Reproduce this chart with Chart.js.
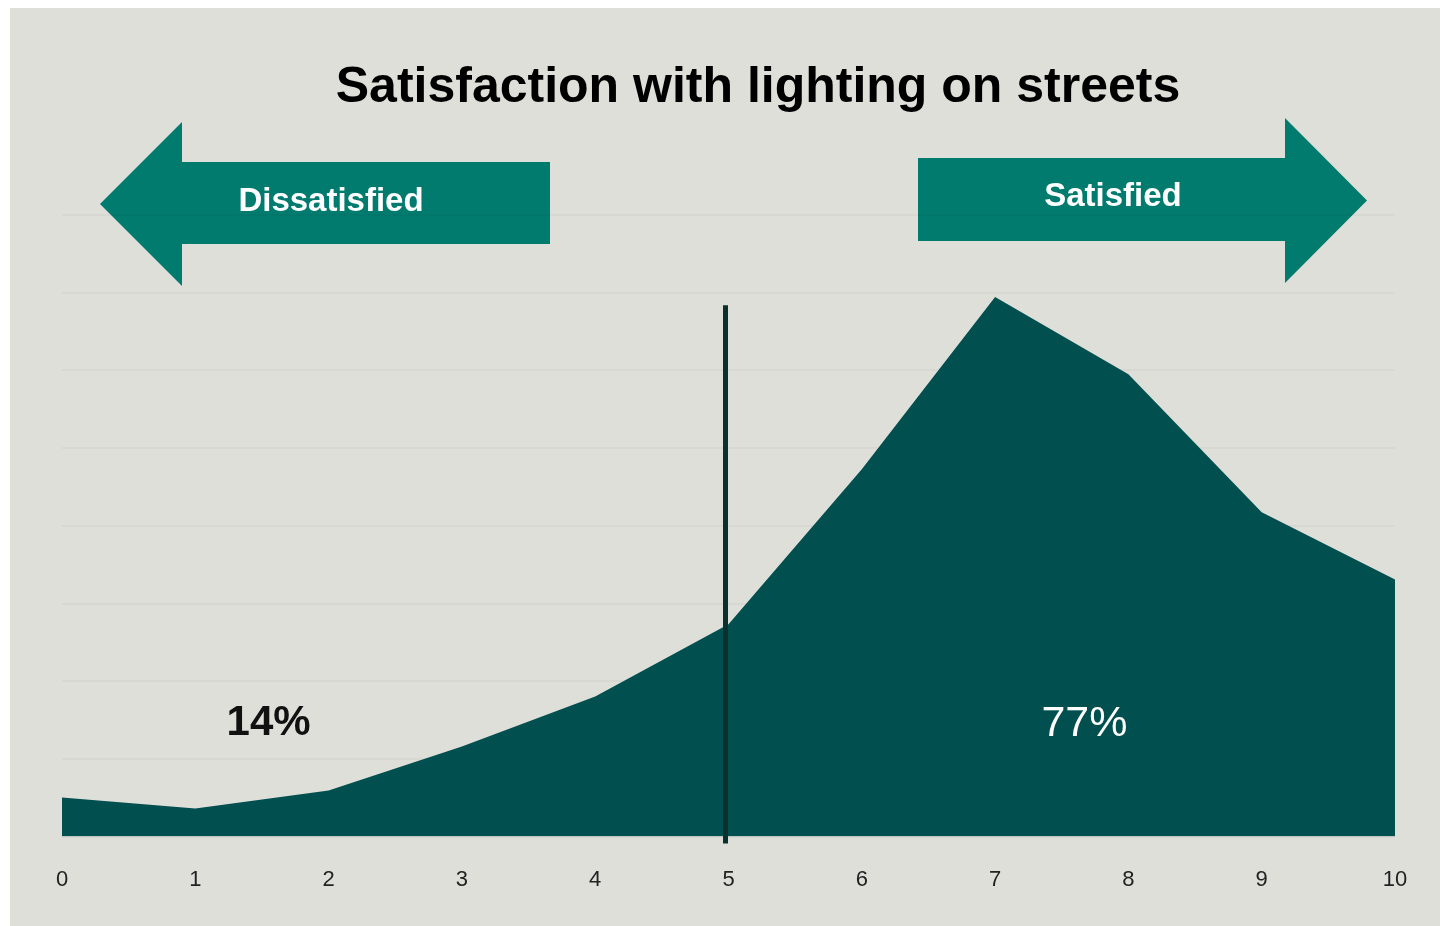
<!DOCTYPE html>
<html>
<head>
<meta charset="utf-8">
<script src="https://cdn.jsdelivr.net/npm/chart.js@4"></script>
<style>
  html, body { margin: 0; padding: 0; background: #ffffff; }
  #panel {
    position: absolute;
    left: 10px;
    top: 8px;
    width: 1430px;
    height: 918px;
    background: #dfdfd9;
  }
  #chartSatisfaction { display: block; }
</style>
</head>
<body>
<div id="panel">
  <canvas id="chartSatisfaction" width="1430" height="918"></canvas>
</div>
<script>
// satisfaction score on a 0-10 scale, share of respondents (%)
const SCORES = ['0', '1', '2', '3', '4', '5', '6', '7', '8', '9', '10'];
const SHARES = [1.56, 1.12, 1.84, 3.59, 5.59, 8.47, 14.66, 21.53, 18.45, 12.94, 10.26];

const TITLE = 'Satisfaction with lighting on streets';
const LEFT_LABEL = 'Dissatisfied';
const RIGHT_LABEL = 'Satisfied';
const DISSATISFIED_TOTAL = '14%';
const SATISFIED_TOTAL = '77%';
const NEUTRAL_SCORE = 5;

const FILL_COLOR = '#014f4f';
const ARROW_COLOR = '#007b6e';
const FONT = "'Liberation Sans', Arial, sans-serif";

function drawArrow(ctx, shaftFrom, shaftTo, shaftTop, shaftBottom, headTop, headBottom, tipX) {
  const midY = (headTop + headBottom) / 2;
  ctx.beginPath();
  ctx.moveTo(shaftFrom, shaftTop);
  ctx.lineTo(shaftTo, shaftTop);
  ctx.lineTo(shaftTo, headTop);
  ctx.lineTo(tipX, midY);
  ctx.lineTo(shaftTo, headBottom);
  ctx.lineTo(shaftTo, shaftBottom);
  ctx.lineTo(shaftFrom, shaftBottom);
  ctx.closePath();
  ctx.fill();
}

const decorations = {
  id: 'decorations',
  beforeDraw(chart) {
    const { ctx } = chart;
    ctx.save();

    ctx.fillStyle = '#000000';
    ctx.font = `bold 50px ${FONT}`;
    ctx.textAlign = 'center';
    ctx.textBaseline = 'alphabetic';
    ctx.fillText(TITLE, 748, 94);

    ctx.fillStyle = ARROW_COLOR;
    drawArrow(ctx, 540, 172, 154, 236, 114, 278, 90);
    drawArrow(ctx, 908, 1275, 150, 233, 110, 275, 1357);

    ctx.fillStyle = '#ffffff';
    ctx.font = `bold 33px ${FONT}`;
    ctx.textBaseline = 'middle';
    ctx.fillText(LEFT_LABEL, 321, 194);
    ctx.fillText(RIGHT_LABEL, 1103, 189);
    ctx.restore();
  },
  afterDatasetsDraw(chart) {
    const { ctx, chartArea } = chart;
    const x = chart.scales.x;
    const y = chart.scales.y;
    ctx.save();

    // neutral marker sits just left of the score-5 point
    const lineX = x.getPixelForValue(NEUTRAL_SCORE) - 3;
    ctx.strokeStyle = '#0b302d';
    ctx.lineWidth = 5;
    ctx.beginPath();
    ctx.moveTo(lineX, y.getPixelForValue(21.2));
    ctx.lineTo(lineX, chartArea.bottom + 7);
    ctx.stroke();

    ctx.textAlign = 'center';
    ctx.textBaseline = 'middle';
    ctx.fillStyle = '#111111';
    ctx.font = `bold 42px ${FONT}`;
    ctx.fillText(DISSATISFIED_TOTAL, x.getPixelForValue(1.55), y.getPixelForValue(4.5));

    ctx.fillStyle = '#ffffff';
    ctx.font = `43px ${FONT}`;
    ctx.fillText(SATISFIED_TOTAL, x.getPixelForValue(7.67), y.getPixelForValue(4.5));
    ctx.restore();
  }
};

const canvas = document.getElementById('chartSatisfaction');

new Chart(canvas, {
  type: 'line',
  data: {
    labels: SCORES,
    datasets: [{
      data: SHARES,
      fill: 'origin',
      backgroundColor: FILL_COLOR,
      borderColor: FILL_COLOR,
      borderWidth: 0,
      pointRadius: 0,
      tension: 0
    }]
  },
  options: {
    responsive: false,
    animation: false,
    layout: { padding: { left: 52, right: 45, top: 207, bottom: 3 } },
    plugins: {
      legend: { display: false },
      title: { display: false },
      tooltip: { enabled: false }
    },
    scales: {
      x: {
        offset: false,
        grid: { display: false, drawTicks: false },
        border: { display: false },
        ticks: {
          color: '#222222',
          font: { family: FONT, size: 22 },
          padding: 30,
          maxRotation: 0,
          autoSkip: false
        }
      },
      y: {
        min: 0,
        max: 24.8,
        grid: { color: 'rgba(0, 0, 0, 0.03)', lineWidth: 2, drawTicks: false },
        border: { display: false },
        ticks: { display: false, stepSize: 3.1 }
      }
    }
  },
  plugins: [decorations]
});
</script>
</body>
</html>
